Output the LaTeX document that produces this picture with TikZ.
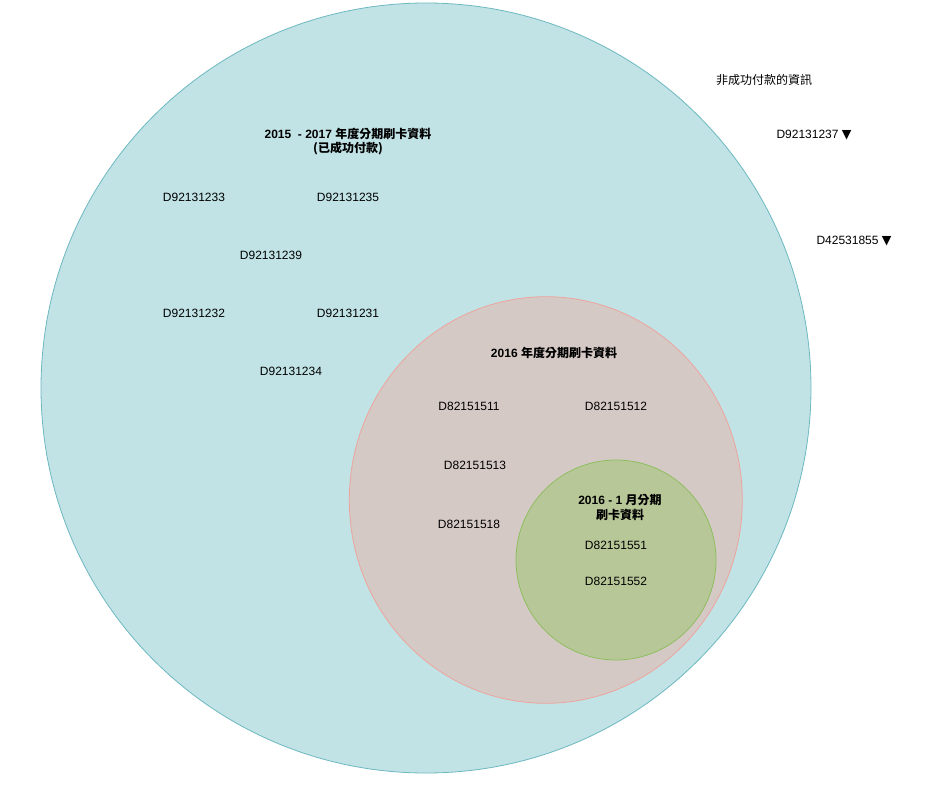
\documentclass[tikz,border=0pt]{standalone}
\usepackage{fontspec}
\setmainfont{Liberation Sans}
\newfontfamily\cjk{Noto Sans CJK TC}
\newfontfamily\symf{DejaVu Sans}
\definecolor{bigfill}{HTML}{C1E3E6}
\definecolor{bigline}{HTML}{6CB8C0}
\definecolor{midfill}{HTML}{D5C9C6}
\definecolor{midline}{HTML}{EDA49C}
\definecolor{smallfill}{HTML}{B8C798}
\definecolor{smallline}{HTML}{8DBE5E}
\tikzset{
  lbl/.style={font=\fontsize{12}{15}\selectfont, inner sep=0pt, text=black},
  ttl/.style={font=\fontsize{12}{14.5}\selectfont\bfseries, inner sep=0pt, align=center, text=black},
}
\begin{document}
\begin{tikzpicture}[x=1pt,y=-1pt]
\useasboundingbox (0,0) rectangle (929,789);
\fill[white] (0,0) rectangle (929,789);
% circles
\draw[bigline, fill=bigfill, line width=0.8pt] (426,388) circle [radius=385pt];
\draw[midline, fill=midfill, line width=0.8pt] (545.8,500) ellipse [x radius=196.5pt, y radius=203.3pt];
\draw[smallline, fill=smallfill, line width=0.8pt] (616,560) circle [radius=100pt];
% big set
\node[ttl] (t1) at (348,141.5) {2015 \ - 2017 {\cjk 年度分期刷卡資料}\\{\cjk (已成功付款)}};
\node[lbl] (a1) at (194,197) {D92131233};
\node[lbl] (a2) at (348,197) {D92131235};
\node[lbl] (a3) at (271,255) {D92131239};
\node[lbl] (a4) at (194,313) {D92131232};
\node[lbl] (a5) at (348,313) {D92131231};
\node[lbl] (a6) at (291,371) {D92131234};
% middle set
\node[ttl] (t2) at (554,352.7) {2016 {\cjk 年度分期刷卡資料}};
\node[lbl] (b1) at (469,406.7) {D82151511};
\node[lbl] (b2) at (616,406.7) {D82151512};
\node[lbl] (b3) at (475,465.7) {D82151513};
\node[lbl] (b4) at (469,524.7) {D82151518};
% small set
\node[ttl] (t3) at (620,507.5) {2016 - 1 {\cjk 月分期}\\{\cjk 刷卡資料}};
\node[lbl] (c1) at (616,545) {D82151551};
\node[lbl] (c2) at (616,581.7) {D82151552};
% outside
\node[lbl] (o0) at (764,80) {\cjk 非成功付款的資訊};
\node[lbl] (o1) at (814,135) {D92131237 {\symf\fontsize{12.5}{14}\selectfont ▼}};
\node[lbl] (o2) at (854,241) {D42531855 {\symf\fontsize{12.5}{14}\selectfont ▼}};
\end{tikzpicture}
\end{document}
